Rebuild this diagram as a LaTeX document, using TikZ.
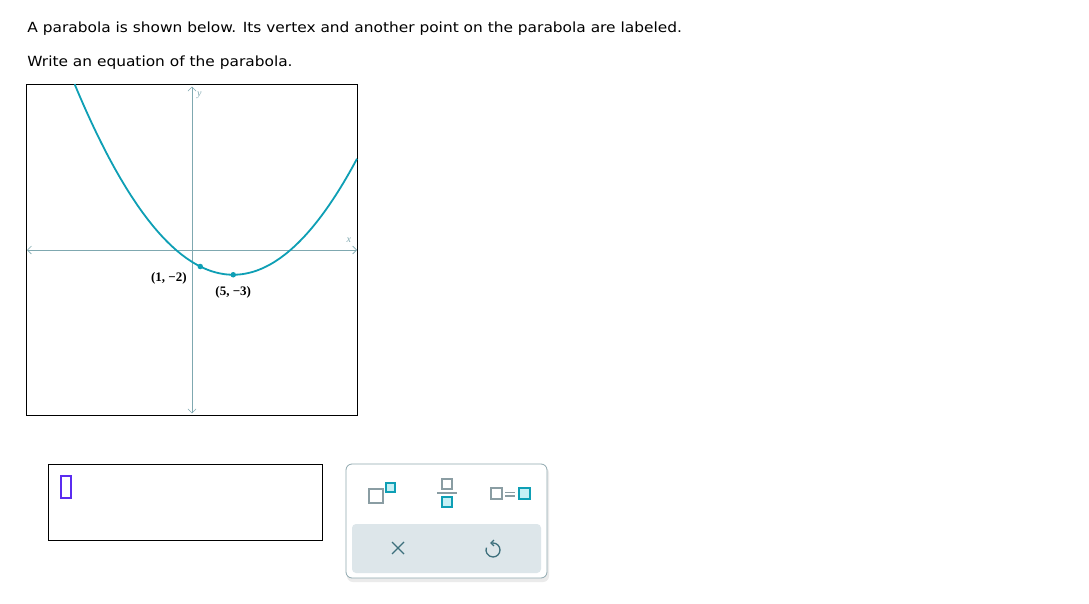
\documentclass[tikz,border=0pt]{standalone}
\usepackage{fontspec}
\setmainfont{DejaVu Sans}[FakeStretch=1.1]
\newfontfamily\lblfont{Liberation Serif}
\usetikzlibrary{positioning,arrows.meta}

\definecolor{curveteal}{HTML}{0E9FB5}
\definecolor{axisgrey}{HTML}{7FA8B0}
\definecolor{boxgrey}{HTML}{8A9DA3}
\definecolor{boxcyan}{HTML}{C6F0F5}
\definecolor{panelgrey}{HTML}{DDE6EA}
\definecolor{panelline}{HTML}{8FA8AF}
\definecolor{iconink}{HTML}{3D6F7C}
\definecolor{cursorpurple}{HTML}{5B2CF0}

\begin{document}
\begin{tikzpicture}[x=1pt,y=-1pt,thick,
    question/.style={anchor=base west,inner sep=0pt,font=\fontsize{14}{16}\selectfont},
    axis/.style={draw=axisgrey,line width=0.6pt,{Straight Barb[length=4pt,width=8pt]}-{Straight Barb[length=4pt,width=8pt]}},
    dot/.style={circle,fill=curveteal,inner sep=0pt,minimum size=5.5pt},
    point label/.style={font=\lblfont\bfseries\fontsize{13}{14}\selectfont,inner sep=0pt},
    axis label/.style={font=\lblfont\itshape\fontsize{10}{11}\selectfont,text=axisgrey,inner sep=0pt},
    greybox/.style={draw=boxgrey,line width=1.4pt,fill=white},
    cyanbox/.style={draw=curveteal,line width=1.4pt,fill=boxcyan}]
    \useasboundingbox[fill=white] (0,0) rectangle (1089,604);

    % question text
    \node[question] (q1) at (27,32.5) {A parabola is shown below. Its vertex and another point on the parabola are labeled.};
    \node[question] (q2) at (27,67) {Write an equation of the parabola.};

    % graph
    \draw[black,line width=0.8pt] (26,84) rectangle (357,415);
    \begin{scope}[shift={(192,250)},x=8.25pt,y=8.25pt]
        \coordinate (xl) at (-20,0);
        \coordinate (xr) at (20,0);
        \coordinate (yb) at (0,-19.8);
        \coordinate (yt) at (0,19.8);
        \draw[axis] (xl) -- (xr);
        \draw[axis] (yb) -- (yt);
        \node[axis label] (xlbl) at (19.0,1.2) {x};
        \node[axis label] (ylbl) at (0.9,18.7) {y};

        \draw[curveteal,line width=1.8pt] plot[domain=-14.22:20,samples=120,smooth] (\x,{(\x-5)^2/16-3});

        \node[dot] (pt) at (1,-2) {};
        \node[dot] (vtx) at (5,-3) {};
        \node[point label] (ptlbl) [below left=3pt and 11pt of pt] {(1, −2)};
        \node[point label] (vtxlbl) [below=8pt of vtx] {(5, −3)};
    \end{scope}

    % answer box
    \draw[black,line width=0.8pt] (48,464) rectangle (322,540);
    \draw[cursorpurple,line width=1.2pt] (61,476) rectangle (71,498);

    % tool panel
    \fill[black!8,rounded corners=6pt] (347,467) rectangle (549,582);
    \draw[panelline,fill=white,line width=0.8pt,rounded corners=6pt] (346,464) rectangle (547,578);
    \fill[panelgrey,rounded corners=4pt] (352,524) rectangle (541,573);

    % superscript icon
    \draw[greybox] (369,489) rectangle (383,503);
    \draw[cyanbox] (386,483) rectangle (395,492);
    % fraction icon
    \draw[greybox] (442,479) rectangle (452,489);
    \draw[boxgrey,line width=1.4pt] (437,493) -- (457,493);
    \draw[cyanbox] (442,497) rectangle (452,507);
    % equals icon
    \draw[greybox] (491,488) rectangle (502,499);
    \draw[boxgrey,line width=1.2pt] (505,492.5) -- (515,492.5) (505,496) -- (515,496);
    \draw[cyanbox] (519,488) rectangle (530,499);

    % clear and undo
    \coordinate (clr) at (398,548);
    \draw[iconink,line width=1.3pt] ([shift={(-6,-6)}]clr) -- ([shift={(6,6)}]clr)
        ([shift={(-6,6)}]clr) -- ([shift={(6,-6)}]clr);
    \coordinate (undo) at (493,550);
    \draw[iconink,line width=1.3pt,{Straight Barb[length=3pt,width=6pt]}-]
        ([shift={(-3,-7)}]undo) -- ([shift={(0,-7)}]undo) arc[start angle=-90,end angle=200,radius=7];
\end{tikzpicture}
\end{document}
